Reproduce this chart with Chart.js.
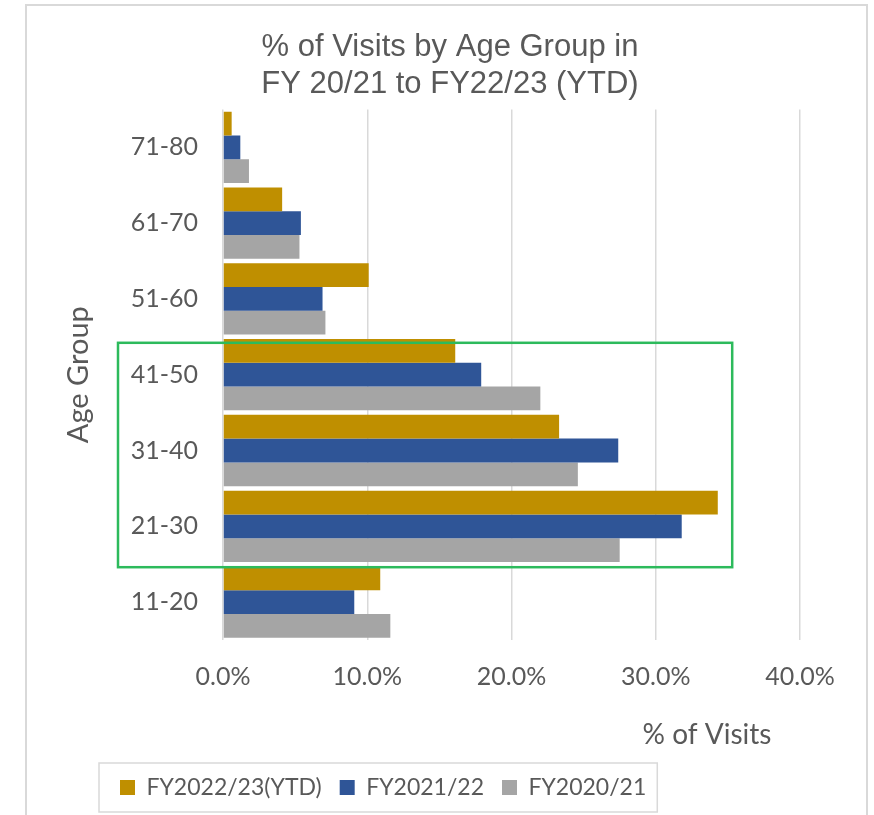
<!DOCTYPE html>
<html>
<head>
<meta charset="utf-8">
<title>% of Visits by Age Group</title>
<script src="https://cdn.jsdelivr.net/npm/chart.js@4.4.1/dist/chart.umd.min.js"></script>
<style>
  html, body { margin: 0; padding: 0; background: #ffffff; }
  #wrap { position: relative; width: 874px; height: 815px; }
</style>
</head>
<body>
<div id="wrap"><canvas id="chart" width="874" height="815"></canvas></div>
<script>
// values, in % of visits
var ageGroups = ['71-80', '61-70', '51-60', '41-50', '31-40', '21-30', '11-20'];
var fy2223 = [0.6, 4.1, 10.1, 16.1, 23.3, 34.3, 10.9];
var fy2122 = [1.2, 5.4, 6.9, 17.9, 27.4, 31.8, 9.1];
var fy2021 = [1.8, 5.3, 7.1, 22.0, 24.6, 27.5, 11.6];
var seriesNames = ['FY2022/23(YTD)', 'FY2021/22', 'FY2020/21'];
var xTicks = [0, 10, 20, 30, 40];
var highlightGroups = ['41-50', '21-30'];
var highlightMax = 35.3;

var TEXT = '#595959';
var LABEL_FONT = 'Lato, "Open Sans", sans-serif';
var TITLE_FONT = '"Liberation Sans", Arial, sans-serif';

function pct(v) {
  return Number(v).toFixed(1) + '%';
}

// frame, moved title/legend, highlight box, x-axis title
var decorPlugin = {
  id: 'decor',
  afterUpdate: function (chart) {
    var title = chart.titleBlock;
    if (title) {
      title.left = 26;
      title.right = 874;
      title.width = title.right - title.left;
    }
    var legend = chart.legend;
    if (legend) {
      var pad = legend.options.labels.padding;
      legend.left = 120 - pad;
      legend.right = 700;
      legend.width = legend.right - legend.left;
      legend.adjustHitBoxes();
    }
  },
  beforeDraw: function (chart) {
    var ctx = chart.ctx;
    ctx.save();
    ctx.fillStyle = '#ffffff';
    ctx.fillRect(0, 0, chart.width, chart.height);
    ctx.strokeStyle = '#d9d9d9';
    ctx.lineWidth = 2;
    ctx.strokeRect(26, 5, 841, chart.height + 20);
    ctx.restore();
  },
  afterDatasetsDraw: function (chart) {
    var ctx = chart.ctx;
    var xs = chart.scales.x;
    var ys = chart.scales.y;
    var band = (chart.chartArea.bottom - chart.chartArea.top) / ageGroups.length;
    var top = ys.getPixelForValue(ageGroups.indexOf(highlightGroups[0])) - band / 2 + 6;
    var bottom = ys.getPixelForValue(ageGroups.indexOf(highlightGroups[1])) + band / 2 + 3;
    var left = chart.chartArea.left - 105;
    var right = xs.getPixelForValue(highlightMax);
    ctx.save();
    ctx.strokeStyle = '#2dba5c';
    ctx.lineWidth = 2.5;
    ctx.strokeRect(left, top, right - left, bottom - top);
    ctx.restore();
  },
  afterDraw: function (chart) {
    var ctx = chart.ctx;
    var area = chart.chartArea;
    ctx.save();
    ctx.fillStyle = TEXT;
    ctx.font = '28px ' + LABEL_FONT;
    ctx.textAlign = 'center';
    ctx.textBaseline = 'middle';
    ctx.fillText('% of Visits', area.right - 93, area.bottom + 95);

    // box round the legend row
    var legend = chart.legend;
    var pad = legend.options.labels.padding;
    var rowW = legend.lineWidths && legend.lineWidths.length ? legend.lineWidths[0] : 0;
    var x0 = legend.left + pad - 21;
    var x1 = legend.left + rowW + 11;
    var y0 = legend.top + 5;
    var y1 = legend.bottom + 3;
    ctx.strokeStyle = '#d9d9d9';
    ctx.lineWidth = 1.5;
    ctx.strokeRect(x0, y0, x1 - x0, y1 - y0);
    ctx.restore();
  },
};

var chart = new Chart(document.getElementById('chart'), {
  type: 'bar',
  data: {
    labels: ageGroups,
    datasets: [
      { label: seriesNames[0], data: fy2223, backgroundColor: '#bf8f00' },
      { label: seriesNames[1], data: fy2122, backgroundColor: '#2f5597' },
      { label: seriesNames[2], data: fy2021, backgroundColor: '#a5a5a5' },
    ],
  },
  options: {
    indexAxis: 'y',
    responsive: false,
    animation: false,
    datasets: { bar: { categoryPercentage: 0.94, barPercentage: 1.0, borderWidth: 0 } },
    layout: { padding: { left: 40, right: 74, top: 0, bottom: 6 } },
    plugins: {
      title: {
        display: true,
        text: ['% of Visits by Age Group in', 'FY 20/21 to FY22/23 (YTD)'],
        color: TEXT,
        font: { family: TITLE_FONT, size: 31, weight: 'normal', lineHeight: 1.2 },
        padding: { top: 29, bottom: 6 },
      },
      legend: {
        position: 'bottom',
        align: 'start',
        labels: {
          color: TEXT,
          font: { family: LABEL_FONT, size: 23 },
          boxWidth: 15,
          boxHeight: 15,
          padding: 18,
        },
      },
      tooltip: { enabled: false },
    },
    scales: {
      x: {
        min: 0,
        max: 40,
        afterBuildTicks: function (scale) {
          scale.ticks = xTicks.map(function (v) { return { value: v }; });
        },
        afterFit: function (scale) { scale.height = 118; },
        grid: { color: '#d9d9d9', lineWidth: 1.5, drawTicks: false },
        border: { display: false },
        ticks: {
          color: TEXT,
          font: { family: LABEL_FONT, size: 25 },
          padding: 22,
          maxRotation: 0,
          callback: function (v) { return pct(v); },
        },
      },
      y: {
        afterFit: function (scale) { scale.width = 183; },
        grid: { display: false },
        border: { display: false },
        ticks: {
          color: TEXT,
          font: { family: LABEL_FONT, size: 25 },
          padding: 17,
        },
        title: {
          display: true,
          text: 'Age Group',
          color: TEXT,
          font: { family: LABEL_FONT, size: 29 },
          padding: { top: 21, bottom: 0 },
        },
      },
    },
  },
  plugins: [decorPlugin],
});
</script>
</body>
</html>
